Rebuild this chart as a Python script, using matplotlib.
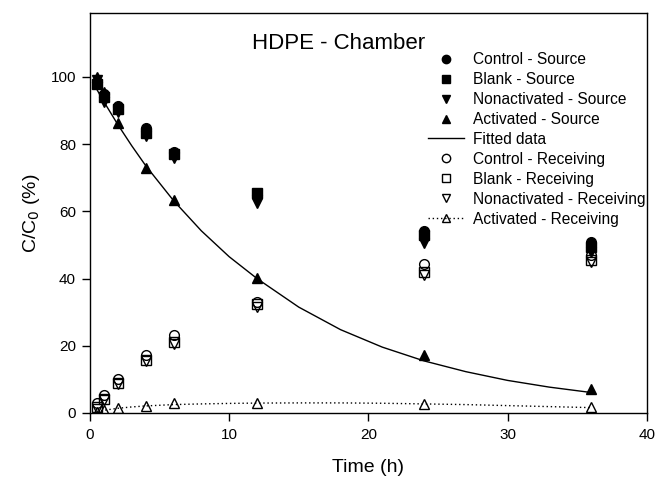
import matplotlib.pyplot as plt
from matplotlib.lines import Line2D

plt.rcParams['font.family'] = ['Liberation Sans', 'DejaVu Sans']

# sampling times (h)
time = [0.5, 1, 2, 4, 6, 12, 24, 36]

# source side, C/C0 (%)
control_src = [98.5, 95, 91.2, 84.7, 77.8, 65.0, 54.0, 51.0]
blank_src = [98.0, 94, 90.5, 83.3, 77.0, 65.4, 53.0, 49.5]
nonact_src = [99.0, 92.6, 89.7, 82.5, 76.0, 62.5, 50.5, 48.0]
act_src = [100.0, 95.5, 86.3, 72.9, 63.4, 40.2, 17.3, 7.0]

# receiving side, C/C0 (%)
control_rec = [2.9, 5.3, 10.0, 17.3, 23.2, 33.1, 44.3, 47.0]
blank_rec = [1.8, 4.2, 8.8, 15.8, 21.0, 32.3, 42.0, 45.5]
nonact_rec = [1.2, 3.8, 8.5, 15.5, 20.5, 31.5, 41.0, 45.0]
act_rec = [0.4, 0.9, 1.4, 2.1, 2.9, 3.1, 2.7, 1.7]

# fitted curves
fit_time = [0.5, 1, 2, 3, 4, 6, 8, 10, 12, 15, 18, 21, 24, 27, 30, 33, 36]
fit_src = [96.2, 92.6, 85.8, 79.5, 73.6, 63.2, 54.2, 46.5, 40.0, 31.5,
           24.8, 19.6, 15.5, 12.3, 9.7, 7.7, 6.1]
fit_rec = [0.5, 0.8, 1.4, 1.8, 2.1, 2.5, 2.7, 2.85, 2.95, 3.0,
           3.0, 2.9, 2.7, 2.5, 2.2, 1.9, 1.6]

fig = plt.figure(figsize=(6.56, 4.79), dpi=100)
ax = fig.add_axes([0.1372, 0.1378, 0.8486, 0.835])

ms = 7
ax.plot(fit_time, fit_src, color='black', lw=1.0, zorder=2)
ax.plot(fit_time, fit_rec, color='black', lw=1.0, ls=(0, (1, 2)), zorder=2)

ax.plot(time, control_src, 'o', color='black', ms=ms, ls='none', zorder=3)
ax.plot(time, blank_src, 's', color='black', ms=ms - 0.5, ls='none', zorder=3)
ax.plot(time, nonact_src, 'v', color='black', ms=ms, ls='none', zorder=3)
ax.plot(time, act_src, '^', color='black', ms=ms, ls='none', zorder=3)

ax.plot(time, control_rec, 'o', mec='black', mfc='none', ms=ms, ls='none', zorder=3)
ax.plot(time, blank_rec, 's', mec='black', mfc='none', ms=ms - 0.5, ls='none', zorder=3)
ax.plot(time, nonact_rec, 'v', mec='black', mfc='none', ms=ms, ls='none', zorder=3)
ax.plot(time, act_rec, '^', mec='black', mfc='none', ms=ms, ls='none', zorder=3)

ax.set_xlim(0, 40)
ax.set_ylim(0, 119)
ax.set_xticks([0, 10, 20, 30, 40])
ax.set_yticks([0, 20, 40, 60, 80, 100])
ax.tick_params(direction='out', length=6, width=1, labelsize=11, pad=4)
ax.xaxis.set_tick_params(pad=5)
for s in ax.spines.values():
    s.set_linewidth(1.0)

ax.set_xlabel('Time (h)', fontsize=14, labelpad=12)
ax.set_ylabel('C/C$_0$ (%)', fontsize=14, labelpad=6)
ax.text(0.447, 0.925, 'HDPE - Chamber', transform=ax.transAxes,
        ha='center', va='center', fontsize=16)

handles = [
    Line2D([], [], marker='o', color='black', ls='none', ms=ms - 1),
    Line2D([], [], marker='s', color='black', ls='none', ms=ms - 1.5),
    Line2D([], [], marker='v', color='black', ls='none', ms=ms - 1),
    Line2D([], [], marker='^', color='black', ls='none', ms=ms - 1),
    Line2D([], [], color='black', lw=1.0),
    Line2D([], [], marker='o', mec='black', mfc='none', ls='none', ms=ms - 1),
    Line2D([], [], marker='s', mec='black', mfc='none', ls='none', ms=ms - 1.5),
    Line2D([], [], marker='v', mec='black', mfc='none', ls='none', ms=ms - 1),
    Line2D([], [], marker='^', mec='black', mfc='none', color='black',
           ls=(0, (1, 2)), lw=1.0, ms=ms - 1),
]
labels = ['Control - Source', 'Blank - Source', 'Nonactivated - Source',
          'Activated - Source', 'Fitted data', 'Control - Receiving',
          'Blank - Receiving', 'Nonactivated - Receiving', 'Activated - Receiving']
ax.legend(handles, labels, loc='upper left', bbox_to_anchor=(0.607, 0.9025),
          frameon=False, fontsize=11.2, numpoints=1, handlelength=2.3,
          handletextpad=0.58, labelspacing=0.32, borderpad=0, borderaxespad=0)

fig.savefig('out.png', dpi=100)
